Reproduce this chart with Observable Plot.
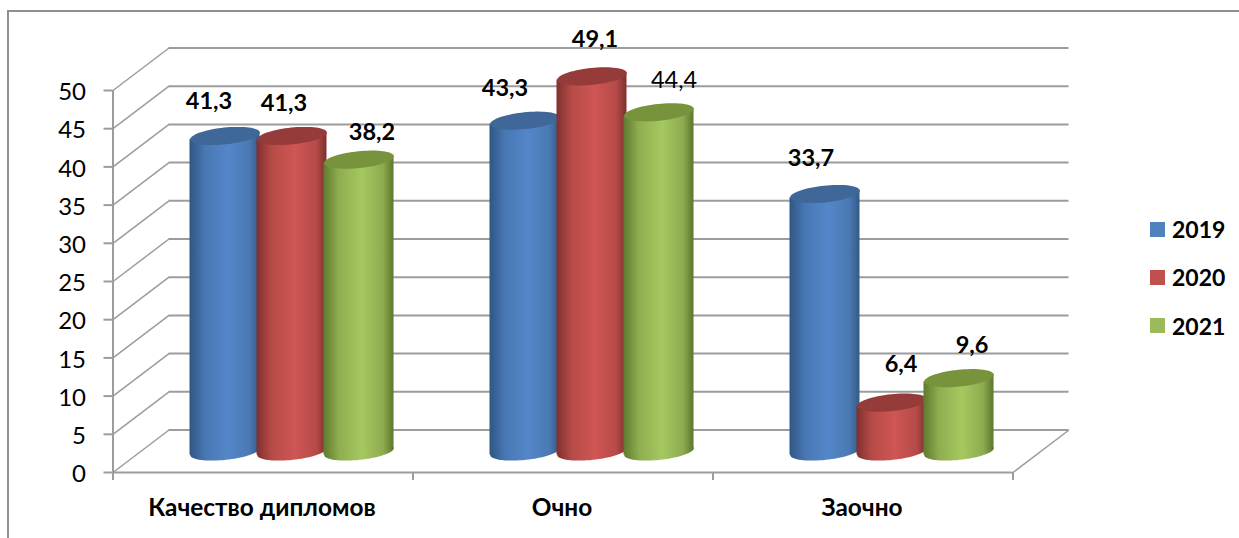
<!DOCTYPE html>
<html lang="ru">
<head>
<meta charset="utf-8">
<script src="https://cdn.jsdelivr.net/npm/d3@7"></script>
<script src="https://cdn.jsdelivr.net/npm/@observablehq/plot@0.6"></script>
<style>
  html, body { margin: 0; padding: 0; background: #fff; width: 1239px; height: 538px; overflow: hidden; }
  #wrap { position: relative; width: 1239px; height: 538px; font-family: Lato, "Open Sans", sans-serif; }
  #wrap svg { display: block; position: absolute; left: 0; top: 0; background: transparent; }
  #frame { position: absolute; left: 7px; top: 10px; right: 0; bottom: 0; border-left: 2px solid #8f8f8f; border-top: 2px solid #8f8f8f; }
  .lg { position: absolute; left: 1150px; display: flex; align-items: center; height: 24px; font-weight: 700; font-size: 23px; color: #000; }
  .lg i { display: block; width: 15px; height: 15px; margin-right: 7px; }
</style>
</head>
<body>
<div id="wrap"><div id="frame"></div></div>
<script>
const categories = ["Качество дипломов", "Очно", "Заочно"];
const years = ["2019", "2020", "2021"];
const values2019 = [41.3, 43.3, 33.7];
const values2020 = [41.3, 49.1, 6.4];
const values2021 = [38.2, 44.4, 9.6];
const yTicks = [0, 5, 10, 15, 20, 25, 30, 35, 40, 45, 50];
const xTicks = [0, 1, 2, 3];

// Styling and layout constants, separate from the values above
const swatchColors = ["#4f81bd", "#c0504d", "#9bbb59"];
const topColors = ["#3f6797", "#953b39", "#77933c"];
const gradients = [
  ["#2f5684", "#4877b3", "#5487ca", "#4a79b3", "#325a88"],
  ["#7f302e", "#b74b48", "#cf5654", "#b54b48", "#7d302e"],
  ["#5f7a2e", "#8fae50", "#a5c85f", "#8dab4f", "#5c762d"]
];
const labelNudge = [
  [[-16, -34], [-20, -32], [-14, -36]],
  [[-8, -32], [3, -37], [9, -38]],
  [[13, -27], [15, -32], [13, -33]]
];
const grey = "#9c9c9c";
const depthX = 56 / 300, depthY = 42.5 / 7.64;   // 3D depth of the wall, in scale units
const barStep = 67 / 300, barWidth = 70 / 300;
const tilt = 3.6 / 7.64;                          // slope of a cylinder cap, in y units
const cylDx = 29, cylDy = -21;

const seriesValues = [values2019, values2020, values2021];

// Tilted ellipse used as a Plot symbol for the cylinder caps
const capSymbol = {
  draw(ctx) {
    const rx = 35, ry = 8.4, a = -5.9 * Math.PI / 180, n = 72;
    for (let k = 0; k <= n; ++k) {
      const t = 2 * Math.PI * k / n;
      const ex = rx * Math.cos(t), ey = ry * Math.sin(t);
      const px = ex * Math.cos(a) - ey * Math.sin(a);
      const py = ex * Math.sin(a) + ey * Math.cos(a);
      k ? ctx.lineTo(px, py) : ctx.moveTo(px, py);
    }
    ctx.closePath();
  }
};

const defsMark = () => {
  const defs = d3.create("svg:defs");
  gradients.forEach((stops, j) => {
    const g = defs.append("linearGradient").attr("id", "cyl" + j)
      .attr("x1", 0).attr("x2", 1).attr("y1", 0).attr("y2", 0);
    [0, 0.22, 0.55, 0.85, 1].forEach((o, k) =>
      g.append("stop").attr("offset", o).attr("stop-color", stops[k]));
  });
  return defs.node();
};

const barCenter = (i, j) => i + 0.5 + (j - 1) * barStep;

// Draw walls and floor
const wallMarks = [
  Plot.ruleY(yTicks, {y: d => d, x1: 0, x2: 3, dx: 56, dy: -42.5, stroke: grey, strokeWidth: 2}),
  Plot.link(yTicks, {x1: 0, x2: depthX, y1: d => d, y2: d => d + depthY, stroke: grey, strokeWidth: 1.5}),
  Plot.link([0], {x1: 3, x2: 3 + depthX, y1: 0, y2: depthY, stroke: grey, strokeWidth: 1.5}),
  Plot.ruleX([0], {y1: 0, y2: 50, stroke: grey, strokeWidth: 2}),
  Plot.ruleY([0], {x1: 0, x2: 3, stroke: grey, strokeWidth: 2}),
  Plot.axisY({ticks: yTicks, tickSize: 9, fill: "none", stroke: grey, strokeWidth: 2, label: null}),
  Plot.axisY({ticks: yTicks, tickSize: 0, tickPadding: 27, dy: 2, stroke: "none", fill: "#000", fontSize: 24, label: null}),
  Plot.axisX({ticks: xTicks, tickSize: 8, fill: "none", stroke: grey, strokeWidth: 2, label: null})
];

// One cylinder set per series, so later series overlap earlier ones
const cylinderMarks = seriesValues.flatMap((vals, j) => {
  const tops = vals.map((v, i) => ({x: barCenter(i, j), v}));
  const body = vals.flatMap((v, i) => [
    {key: i, x: barCenter(i, j) - barWidth / 2, lo: -tilt, hi: v - tilt},
    {key: i, x: barCenter(i, j) + barWidth / 2, lo: tilt, hi: v + tilt}
  ]);
  return [
    Plot.dot(tops, {x: "x", y: () => 0, r: 35, symbol: capSymbol, fill: `url(#cyl${j})`, stroke: "none", dx: cylDx, dy: cylDy}),
    Plot.areaY(body, {x: "x", y1: "lo", y2: "hi", z: "key", fill: `url(#cyl${j})`, dx: cylDx, dy: cylDy}),
    Plot.dot(tops, {x: "x", y: "v", r: 35, symbol: capSymbol, fill: topColors[j], stroke: "none", dx: cylDx, dy: cylDy})
  ];
});

const labelMarks = seriesValues.flatMap((vals, j) => vals.map((v, i) =>
  Plot.text([v], {
    x: () => barCenter(i, j),
    y: d => d,
    text: d => d.toFixed(1).replace(".", ","),
    dx: cylDx + labelNudge[j][i][0],
    dy: cylDy + labelNudge[j][i][1],
    fontSize: 23.5,
    fontWeight: (j === 2 && i === 1) ? 400 : 700,
    fill: "#000",
    textAnchor: "middle",
    lineAnchor: "middle"
  })
));

const categoryLabels = Plot.text(categories, {
  x: (d, i) => i + 0.5,
  y: () => 0,
  text: d => d,
  dx: -1,
  dy: 36,
  fontSize: 24.4,
  fontWeight: 700,
  fill: "#000",
  textAnchor: "middle",
  lineAnchor: "middle"
});

const chart = Plot.plot({
  width: 1239,
  height: 538,
  marginLeft: 112.5,
  marginRight: 226.5,
  marginTop: 90,
  marginBottom: 66,
  style: {fontFamily: 'Lato, "Open Sans", sans-serif', background: "transparent", overflow: "visible"},
  x: {type: "linear", domain: [0, 3], axis: null},
  y: {type: "linear", domain: [0, 50], axis: null},
  marks: [defsMark, ...wallMarks, ...cylinderMarks, ...labelMarks, categoryLabels]
});

const wrap = document.getElementById("wrap");
wrap.appendChild(chart);

// Legend
const legendTops = [217, 265, 313.5];
years.forEach((y, j) => {
  const row = document.createElement("div");
  row.className = "lg";
  row.style.top = legendTops[j] + "px";
  const sw = document.createElement("i");
  sw.style.background = swatchColors[j];
  row.appendChild(sw);
  row.appendChild(document.createTextNode(y));
  wrap.appendChild(row);
});
</script>
</body>
</html>
